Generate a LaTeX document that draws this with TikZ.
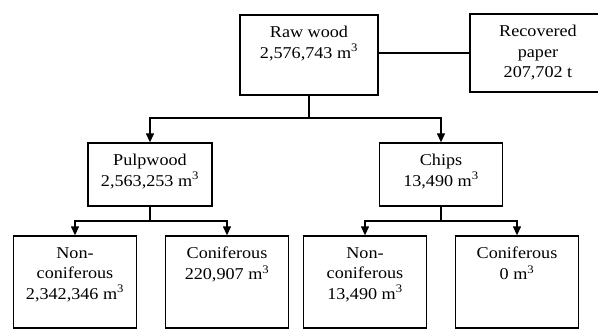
\documentclass[tikz,border=0pt]{standalone}
\usepackage{fontspec}
\setmainfont{Liberation Serif}[FakeStretch=1.1]
\usepackage{tikz}
\usetikzlibrary{arrows.meta}

% box contents: width, height, lines (top aligned)
\newcommand{\boxlines}[3]{\parbox[c][#2][t]{#1}{\centering\vspace*{11.2pt}#3}}

\begin{document}
\begin{tikzpicture}[
        x=1pt, y=-1pt,
        font=\fontsize{16.5}{20.5}\selectfont,
        box/.style={rectangle, draw, line width=1.3pt, inner sep=0pt},
        link/.style={line width=1.3pt, draw=black},
        arrow/.style={-{Triangle[length=9pt,width=8pt]}, line width=1.3pt, draw=black}
    ]
    \useasboundingbox (0,0) rectangle (598,329);
    \clip (0,0) rectangle (598,329);

    % Top level
    \node[box] (raw) at (309,55) {\boxlines{138pt}{80pt}{Raw wood\\2,576,743 m\textsuperscript{3}}};
    % runs off the right edge
    \node[box] (recovered) at (548,53) {\boxlines{156pt}{78pt}{\rightskip=20pt plus 1fil Recovered\\paper\\207,702 t}};

    % Middle level
    \node[box] (pulpwood) at (150,174.5) {\boxlines{124pt}{63pt}{Pulpwood\\2,563,253 m\textsuperscript{3}}};
    \node[box] (chips) at (441,174.5) {\boxlines{123pt}{63pt}{Chips\\13,490 m\textsuperscript{3}}};

    % Bottom level
    \node[box] (pulpnon) at (75,282) {\boxlines{123pt}{92pt}{Non-\\coniferous\\2,342,346 m\textsuperscript{3}}};
    \node[box] (pulpcon) at (227,282) {\boxlines{123pt}{92pt}{Coniferous\\220,907 m\textsuperscript{3}}};
    \node[box] (chipsnon) at (365,282) {\boxlines{123pt}{92pt}{Non-\\coniferous\\13,490 m\textsuperscript{3}}};
    \node[box] (chipscon) at (517,282) {\boxlines{123pt}{92pt}{Coniferous\\0 m\textsuperscript{3}}};

    % Branch points
    \coordinate (rawsplit) at (309,118);
    \coordinate (pulpsplit) at (150,221);
    \coordinate (chipssplit) at (441,221);

    % Connections
    \draw[link] (raw.east |- recovered.west) -- (recovered.west);

    \draw[link] (raw.south) -- (rawsplit);
    \draw[arrow] (rawsplit) -| (pulpwood.north);
    \draw[arrow] (rawsplit) -| (chips.north);

    \draw[link] (pulpwood.south) -- (pulpsplit);
    \draw[arrow] (pulpsplit) -| (pulpnon.north);
    \draw[arrow] (pulpsplit) -| (pulpcon.north);

    \draw[link] (chips.south) -- (chipssplit);
    \draw[arrow] (chipssplit) -| (chipsnon.north);
    \draw[arrow] (chipssplit) -| (chipscon.north);
\end{tikzpicture}
\end{document}
